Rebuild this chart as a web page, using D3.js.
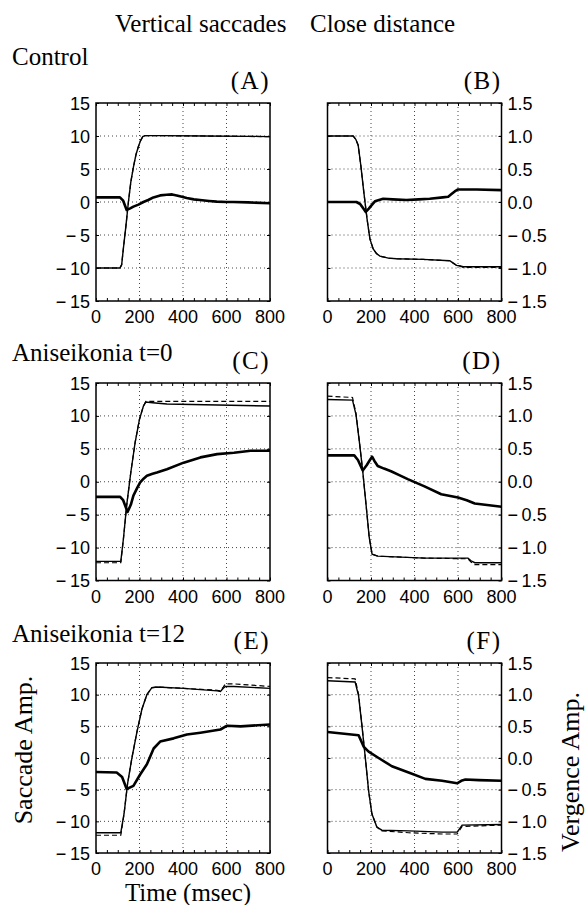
<!DOCTYPE html>
<html><head><meta charset="utf-8">
<script src="https://cdn.jsdelivr.net/npm/d3@7"></script>
<style>
html,body{margin:0;padding:0;background:#fff;}
svg{display:block;}
.serif{font-family:"Liberation Serif","Times New Roman",serif;fill:#000;}
.sans{font-family:"Liberation Sans",Arial,Helvetica,sans-serif;fill:#000;}
</style></head>
<body>
<svg id="chart" width="586" height="905"></svg>
<script>
// ---------- labels ----------
const columnTitles = ["Vertical saccades", "Close distance"];
const rowLabels = ["Control", "Aniseikonia t=0", "Aniseikonia t=12"];
const panelLetters = [["(A)", "(B)"], ["(C)", "(D)"], ["(E)", "(F)"]];
const xTicks = [0, 200, 400, 600, 800];
const saccadeTicks = [-15, -10, -5, 0, 5, 10, 15];
const vergenceTicks = [-1.5, -1.0, -0.5, 0.0, 0.5, 1.0, 1.5];
const xLabel = "Time (msec)";
const leftYLabel = "Saccade Amp.";
const rightYLabel = "Vergence Amp.";

// ---------- data (time in msec, amplitude) ----------
// Panel A
const tA_main = [0,110,118,126,138,149,160,172,184,195,205,215,225,300,500,700,800];
const vA_main = [-10,-10,-9.5,-7,-3.5,0,3,5.3,7.2,8.4,9.3,9.9,10.05,10.05,10,9.95,9.9];
const vA_dash = [-10,-10,-9.5,-7,-3.5,0,3,5.3,7.2,8.4,9.3,9.9,10.05,10.05,10,9.95,9.9];
const tA_thick = [0,110,125,141,155,172,195,218,240,264,295,325,350,371,395,417,450,478,520,555,600,631,700,800];
const vA_thick = [0.7,0.7,0.2,-1.2,-1.0,-0.7,-0.4,0,0.3,0.7,1.0,1.1,1.15,1.0,0.8,0.6,0.4,0.3,0.15,0.05,0,0,-0.05,-0.2];
// Panel B
const tB_main = [0,118,130,141,153,167,182,195,210,225,241,280,317,440,562,580,593,610,624,800];
const vB_main = [1.0,1.0,0.95,0.86,0.56,0.15,-0.26,-0.56,-0.71,-0.78,-0.82,-0.85,-0.86,-0.87,-0.89,-0.93,-0.96,-0.97,-0.98,-0.98];
const vB_dash = [1.0,1.0,0.95,0.86,0.56,0.15,-0.26,-0.56,-0.71,-0.78,-0.82,-0.85,-0.86,-0.87,-0.89,-0.93,-0.96,-0.97,-0.99,-0.99];
const tB_thick = [0,133,150,165,176,190,205,218,256,300,363,420,470,530,555,570,585,600,685,800];
const vB_thick = [0,0,-0.03,-0.1,-0.15,-0.1,-0.04,0.01,0.05,0.04,0.03,0.04,0.05,0.07,0.08,0.12,0.16,0.19,0.19,0.18];
// Panel C
const tC_main = [0,114,126,141,160,180,200,218,229,260,326,500,800];
const vC_main = [-12.1,-12.1,-8.7,-3.6,1.4,6,9.5,11.5,12.1,12.0,11.8,11.7,11.5];
const vC_dash = [-12.3,-12.3,-8.7,-3.6,1.4,6,9.5,11.5,12.2,12.2,12.2,12.2,12.2];
const tC_thick = [0,111,125,145,160,172,190,203,220,234,260,280,326,403,480,557,634,711,800];
const vC_thick = [-2.3,-2.3,-2.8,-4.6,-3.5,-2.1,-0.9,-0.1,0.5,0.9,1.2,1.4,1.9,2.9,3.7,4.2,4.4,4.7,4.7];
// Panel D
const tD_main = [0,115,131,146,162,177,192,205,231,446,646,660,677,800];
const vD_main = [1.25,1.24,1.02,0.62,0.16,-0.34,-0.85,-1.1,-1.13,-1.16,-1.16,-1.2,-1.23,-1.23];
const vD_dash = [1.3,1.28,1.04,0.63,0.16,-0.34,-0.85,-1.1,-1.13,-1.16,-1.17,-1.22,-1.26,-1.26];
const tD_thick = [0,123,140,162,180,195,205,215,231,260,292,330,369,446,523,600,640,677,800];
const vD_thick = [0.4,0.4,0.33,0.17,0.25,0.33,0.38,0.32,0.24,0.2,0.16,0.1,0.04,-0.07,-0.19,-0.24,-0.28,-0.33,-0.38];
// Panel E
const tE_main = [0,114,129,145,165,188,211,234,257,280,403,557,572,585,595,634,800];
const vE_main = [-11.8,-11.8,-8.8,-4.1,0,4.1,7.7,10,11.1,11.2,11,10.6,10.5,11.0,11.3,11.3,11.0];
const vE_dash = [-12.2,-12.2,-8.8,-4.1,0,4.1,7.7,10,11.1,11.2,11,10.7,10.6,11.2,11.7,11.7,11.3];
const tE_thick = [0,95,120,141,172,203,234,265,295,357,418,480,572,603,665,800];
const vE_thick = [-2.2,-2.3,-3.0,-4.9,-4.4,-2.6,-1.0,1.5,2.6,3.1,3.7,4.0,4.5,5.1,5.0,5.3];
// Panel F
const tF_main = [0,127,143,158,174,189,204,227,250,373,527,596,619,800];
const vF_main = [1.22,1.2,0.98,0.52,0,-0.52,-0.88,-1.09,-1.14,-1.15,-1.17,-1.17,-1.06,-1.05];
const vF_dash = [1.27,1.25,1.0,0.53,0,-0.52,-0.88,-1.09,-1.15,-1.18,-1.2,-1.2,-1.08,-1.06];
const tF_thick = [0,143,166,189,235,296,373,450,527,596,615,634,696,800];
const vF_thick = [0.41,0.36,0.18,0.1,0,-0.13,-0.23,-0.33,-0.36,-0.4,-0.36,-0.34,-0.35,-0.36];

const panelData = [
  [{tm:tA_main,vm:vA_main,vd:vA_dash,tt:tA_thick,vt:vA_thick},{tm:tB_main,vm:vB_main,vd:vB_dash,tt:tB_thick,vt:vB_thick}],
  [{tm:tC_main,vm:vC_main,vd:vC_dash,tt:tC_thick,vt:vC_thick},{tm:tD_main,vm:vD_main,vd:vD_dash,tt:tD_thick,vt:vD_thick}],
  [{tm:tE_main,vm:vE_main,vd:vE_dash,tt:tE_thick,vt:vE_thick},{tm:tF_main,vm:vF_main,vd:vF_dash,tt:tF_thick,vt:vF_thick}]
];

// ---------- layout ----------
const colX = [[96,270],[327.5,501.5]];
const rowY = [[103,301],[383,580.5],[663,853]];

const svg = d3.select("#chart");
const fmtNum = (d, dec) => (d < 0 ? "\u2212\u2009" : "") + Math.abs(d).toFixed(dec);

// column titles
svg.append("text").attr("class","serif").attr("x",115).attr("y",32).attr("font-size",25).text(columnTitles[0]);
svg.append("text").attr("class","serif").attr("x",310).attr("y",32).attr("font-size",25).text(columnTitles[1]);

const rowLabelY = [65, 361, 642];
const letterY = [89, 369, 649];

rowLabels.forEach((lab, r) => {
  svg.append("text").attr("class","serif").attr("x",12).attr("y",rowLabelY[r]).attr("font-size",25).text(lab);
});

for (let r = 0; r < 3; r++) {
  for (let c = 0; c < 2; c++) {
    const [x0, x1] = colX[c];
    const [y0, y1] = rowY[r];
    const x = d3.scaleLinear().domain([0, 800]).range([x0, x1]);
    const yTicks = c === 0 ? saccadeTicks : vergenceTicks;
    const y = d3.scaleLinear().domain([yTicks[0], yTicks[yTicks.length-1]]).range([y1, y0]);
    const g = svg.append("g");

    // letters
    svg.append("text").attr("class","serif").attr("x",x1).attr("y",letterY[r])
      .attr("text-anchor","end").attr("font-size",25).attr("letter-spacing",1.5).text(panelLetters[r][c]);

    // grid (dotted)
    const inner = yTicks.slice(1, -1);
    g.selectAll(".gx").data(xTicks.slice(1, -1)).enter().append("line")
      .attr("x1", d => x(d)).attr("x2", d => x(d)).attr("y1", y0).attr("y2", y1)
      .attr("stroke", "#444").attr("stroke-width", 1).attr("stroke-dasharray", "1,3");
    g.selectAll(".gy").data(inner).enter().append("line")
      .attr("y1", d => y(d)).attr("y2", d => y(d)).attr("x1", x0).attr("x2", x1)
      .attr("stroke", "#444").attr("stroke-width", 1).attr("stroke-dasharray", "1,3");

    // axes with inward ticks
    const minorX = d3.range(0, 801, 50);
    g.append("g").attr("transform", `translate(0,${y1})`)
      .call(d3.axisTop(x).tickValues(minorX).tickSize(3).tickFormat(""))
      .call(a => a.select(".domain").remove());
    g.append("g").attr("transform", `translate(0,${y0})`)
      .call(d3.axisBottom(x).tickValues(minorX).tickSize(3).tickFormat(""))
      .call(a => a.select(".domain").remove());
    g.append("g").attr("transform", `translate(${x0},0)`)
      .call(d3.axisRight(y).tickValues(yTicks).tickSize(3).tickFormat(""))
      .call(a => a.select(".domain").remove());
    g.append("g").attr("transform", `translate(${x1},0)`)
      .call(d3.axisLeft(y).tickValues(yTicks).tickSize(3).tickFormat(""))
      .call(a => a.select(".domain").remove());

    // x tick labels
    g.selectAll(".xl").data(xTicks).enter().append("text").attr("class","sans")
      .attr("x", d => x(d)).attr("y", y1 + 22).attr("text-anchor","middle")
      .attr("font-size", 18).text(d => d);

    // y tick labels
    g.selectAll(".yl").data(yTicks).enter().append("text").attr("class","sans")
      .attr("x", c === 0 ? x0 - 6 : x1 + 6).attr("y", d => y(d) + 6.5)
      .attr("text-anchor", c === 0 ? "end" : "start")
      .attr("font-size", 18).text(d => c === 0 ? fmtNum(d, 0) : fmtNum(d, 1));

    // series
    const pd = panelData[r][c];
    const line = d3.line().x(d => x(d[0])).y(d => y(d[1]));
    const clipId = `clip${r}${c}`;
    svg.append("clipPath").attr("id", clipId).append("rect")
      .attr("x", x0).attr("y", y0).attr("width", x1 - x0).attr("height", y1 - y0);
    const sg = g.append("g").attr("clip-path", `url(#${clipId})`);
    sg.append("path").datum(pd.tm.map((t, i) => [t, pd.vd[i]]))
      .attr("d", line).attr("fill","none").attr("stroke","#000").attr("stroke-width",1.2).attr("stroke-dasharray","5,3");
    sg.append("path").datum(pd.tm.map((t, i) => [t, pd.vm[i]]))
      .attr("d", line).attr("fill","none").attr("stroke","#000").attr("stroke-width",1.4);
    sg.append("path").datum(pd.tt.map((t, i) => [t, pd.vt[i]]))
      .attr("d", line).attr("fill","none").attr("stroke","#000").attr("stroke-width",2.6).attr("stroke-linejoin","round");

    // frame
    g.append("rect").attr("x", x0).attr("y", y0).attr("width", x1 - x0).attr("height", y1 - y0)
      .attr("fill","none").attr("stroke","#000").attr("stroke-width",1.5);
  }
}

// axis titles
svg.append("text").attr("class","serif").attr("x",188).attr("y",901).attr("text-anchor","middle")
  .attr("font-size",25).text(xLabel);
svg.append("text").attr("class","serif").attr("transform","translate(32,750) rotate(-90)")
  .attr("text-anchor","middle").attr("font-size",26).text(leftYLabel);
svg.append("text").attr("class","serif").attr("transform","translate(579,772) rotate(-90)")
  .attr("text-anchor","middle").attr("font-size",26).text(rightYLabel);
</script>
</body></html>
